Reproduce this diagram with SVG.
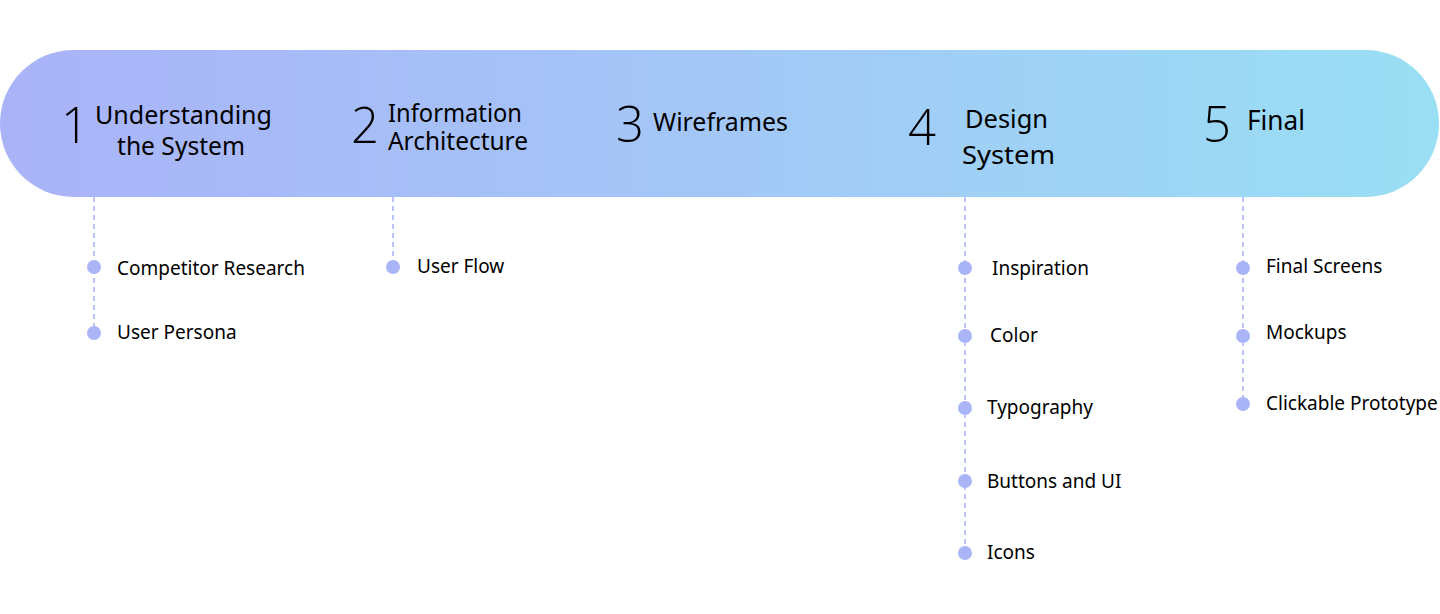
<svg xmlns="http://www.w3.org/2000/svg" width="1440" height="614" viewBox="0 0 1440 614">
<defs>
<linearGradient id="pill" x1="0" y1="0" x2="1" y2="0">
<stop offset="0" stop-color="#AAB3F8"/>
<stop offset="0.45" stop-color="#A4C5F7"/>
<stop offset="1" stop-color="#99DFF4"/>
</linearGradient>
<style>
.num{font-family:"Open Sans","Noto Sans",sans-serif;font-weight:350;font-size:49px;fill:#000}
.ttl{font-family:"Noto Sans","Open Sans",sans-serif;font-size:25px;fill:#000}
.ttl4{font-family:"Noto Sans","Open Sans",sans-serif;font-size:26px;fill:#000}
.ttl5{font-family:"Noto Sans","Open Sans",sans-serif;font-size:28px;fill:#000}
.sub{font-family:"Noto Sans","Open Sans",sans-serif;font-size:19px;fill:#000}
.dash{stroke:#AAB5F8;stroke-width:1.6;stroke-dasharray:5 4;fill:none}
.dot{fill:#AAB5F8}
</style>
</defs>
<rect width="1440" height="614" fill="#fff"/>
<rect id="timeline" x="0" y="50" width="1439" height="147" rx="73.5" ry="73.5" fill="url(#pill)"/>

<g id="connectors">
<line class="dash" x1="94" y1="197" x2="94" y2="333"/>
<line class="dash" x1="393" y1="197" x2="393" y2="267"/>
<line class="dash" x1="965" y1="197" x2="965" y2="553"/>
<line class="dash" x1="1243" y1="197" x2="1243" y2="404"/>
</g>

<g id="stage1">
<text class="num" x="61" y="143">1</text>
<text class="ttl" x="95" y="124" textLength="177" lengthAdjust="spacingAndGlyphs">Understanding</text>
<text class="ttl" x="117" y="155" textLength="128" lengthAdjust="spacingAndGlyphs">the System</text>
</g>
<g id="stage2">
<text class="num" x="351" y="143">2</text>
<text class="ttl" x="388" y="122" textLength="134" lengthAdjust="spacingAndGlyphs">Information</text>
<text class="ttl" x="388" y="150" textLength="140" lengthAdjust="spacingAndGlyphs">Architecture</text>
</g>
<g id="stage3">
<text class="num" x="616" y="142">3</text>
<text class="ttl" x="653" y="131" textLength="135" lengthAdjust="spacingAndGlyphs">Wireframes</text>
</g>
<g id="stage4">
<text class="num" x="908" y="145">4</text>
<text class="ttl4" x="965" y="128" textLength="83" lengthAdjust="spacingAndGlyphs">Design</text>
<text class="ttl4" x="962" y="164" textLength="93" lengthAdjust="spacingAndGlyphs">System</text>
</g>
<g id="stage5">
<text class="num" x="1203" y="142">5</text>
<text class="ttl5" x="1247" y="130" textLength="58" lengthAdjust="spacingAndGlyphs">Final</text>
</g>

<g id="item-competitor"><circle class="dot" cx="94" cy="267" r="7"/><text class="sub" x="117" y="275">Competitor Research</text></g>
<g id="item-persona"><circle class="dot" cx="94" cy="333" r="7"/><text class="sub" x="117" y="339">User Persona</text></g>
<g id="item-userflow"><circle class="dot" cx="393" cy="267" r="7"/><text class="sub" x="417" y="273">User Flow</text></g>
<g id="item-inspiration"><circle class="dot" cx="965" cy="268" r="7"/><text class="sub" x="992" y="275">Inspiration</text></g>
<g id="item-color"><circle class="dot" cx="965" cy="336" r="7"/><text class="sub" x="990" y="342">Color</text></g>
<g id="item-typography"><circle class="dot" cx="965" cy="408" r="7"/><text class="sub" x="987" y="414">Typography</text></g>
<g id="item-buttons"><circle class="dot" cx="965" cy="481" r="7"/><text class="sub" x="987" y="488">Buttons and UI</text></g>
<g id="item-icons"><circle class="dot" cx="965" cy="553" r="7"/><text class="sub" x="987" y="559">Icons</text></g>
<g id="item-finalscreens"><circle class="dot" cx="1243" cy="268" r="7"/><text class="sub" x="1266" y="273">Final Screens</text></g>
<g id="item-mockups"><circle class="dot" cx="1243" cy="336" r="7"/><text class="sub" x="1266" y="339">Mockups</text></g>
<g id="item-prototype"><circle class="dot" cx="1243" cy="404" r="7"/><text class="sub" x="1266" y="410">Clickable Prototype</text></g>
</svg>
